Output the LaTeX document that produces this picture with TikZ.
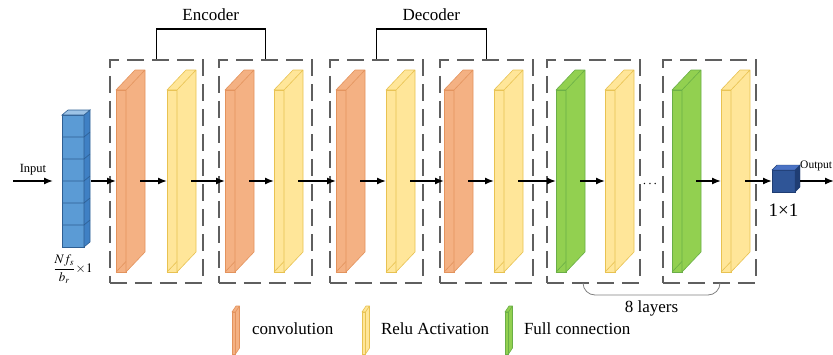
\documentclass[tikz,border=0pt]{standalone}
\usepackage{mathptmx}
\usepackage{fontspec}
\setmainfont{Liberation Serif}
\usepackage{tikz}
\usetikzlibrary{calc, positioning, arrows.meta}
\tikzset{>={Latex[length=9pt,width=7pt]}}

\definecolor{convfill}{HTML}{F4B183}
\definecolor{convedge}{HTML}{E3935D}
\definecolor{relufill}{HTML}{FFE699}
\definecolor{reluedge}{HTML}{E8C251}
\definecolor{fcfill}{HTML}{92D050}
\definecolor{fcedge}{HTML}{6AAE47}
\definecolor{infill}{HTML}{5B9BD5}
\definecolor{inright}{HTML}{3F80C4}
\definecolor{intop}{HTML}{9DC3E6}
\definecolor{inedge}{HTML}{2E5F93}
\definecolor{outfill}{HTML}{2F5597}
\definecolor{outright}{HTML}{1F3D73}
\definecolor{outtop}{HTML}{4A72C4}
\definecolor{boxgray}{HTML}{5F5F5F}

\tikzset{
  stage/.style={draw=boxgray, line width=1.6pt, dash pattern=on 17pt off 8pt,
    minimum width=93pt, minimum height=223pt, inner sep=0pt, anchor=north west},
  slabface/.style={minimum width=10pt, minimum height=182pt, inner sep=0pt,
    outer sep=0pt, anchor=west, line width=0.6pt},
  keyface/.style={minimum width=3.5pt, minimum height=42pt, inner sep=0pt,
    outer sep=0pt, anchor=west, line width=0.6pt},
  flow/.style={->, line width=1.4pt},
  bracket/.style={line width=1.3pt},
  lab/.style={font=\fontsize{17}{20}\selectfont},
  small/.style={font=\fontsize{12.5}{15}\selectfont},
}

\newcommand{\slab}[3]{%
  \node[slabface, fill=#3fill, draw=#3edge] (#1) at (#2,181) {};
  \filldraw[fill=#3fill, draw=#3edge, line width=0.6pt, line join=round]
    (#1.north east) -- ++(19,-20) -- ++(0,182) -- (#1.south east) -- cycle
    (#1.north west) -- ++(19,-20) -- ++(10,0) -- (#1.north east) -- cycle;
  \draw[#3edge, line width=0.6pt] (#1.south west) -- ++(10,-10.5);
}
\newcommand{\keyslab}[3]{%
  \node[keyface, fill=#3fill, draw=#3edge] (#1) at (#2,333) {};
  \filldraw[fill=#3fill, draw=#3edge, line width=0.6pt, line join=round]
    (#1.north east) -- ++(4,-6) -- ++(0,42) -- (#1.south east) -- cycle
    (#1.north west) -- ++(4,-6) -- ++(3.5,0) -- (#1.north east) -- cycle;
}

\begin{document}
\begin{tikzpicture}[x=1pt, y=-1pt]
\useasboundingbox (0,0) rectangle (833,354);

\node[draw=inedge, fill=infill, minimum width=22pt, minimum height=132pt,
  inner sep=0pt, outer sep=0pt, line width=0.6pt] (col) at (73,181) {};
\filldraw[fill=inright, draw=inedge, line width=0.6pt]
  (col.north east) -- ++(6,-5) -- ++(0,132) -- (col.south east) -- cycle;
\filldraw[fill=intop, draw=inedge, line width=0.6pt]
  (col.north west) -- ++(6,-5) -- ++(22,0) -- (col.north east) -- cycle;
\foreach \i in {1,...,5}
  \draw[inedge, line width=0.6pt] ($(col.north west)+(0,\i*22)$) -- ++(22,0) -- ++(6,-5);
\node[font=\fontsize{13}{16}\selectfont] (insize) at (73,269) {$\displaystyle\frac{Nf_s}{b_r}\!\times\! 1$};

\foreach \n/\x in {1/109,2/218,3/329,4/439,5/546,6/662}
  \node[stage] (b\n) at (\x,59) {};

\slab{c1}{116}{conv}
\slab{r1}{167}{relu}
\slab{c2}{225}{conv}
\slab{r2}{274}{relu}
\slab{c3}{336}{conv}
\slab{r3}{386}{relu}
\slab{c4}{444}{conv}
\slab{r4}{494}{relu}
\slab{f5}{556}{fc}
\slab{r5}{605}{relu}
\slab{f6}{672}{fc}
\slab{r6}{721}{relu}

\node[font=\fontsize{14}{16}\selectfont] (dots) at (650,184) {$\cdots$};

\node[draw=outright, fill=outfill, minimum width=23pt, minimum height=22pt,
  inner sep=0pt, outer sep=0pt] (out) at (783.5,181) {};
\filldraw[fill=outright, draw=outright]
  (out.north east) -- ++(5,-5) -- ++(0,22) -- (out.south east) -- cycle;
\filldraw[fill=outtop, draw=outright]
  (out.north west) -- ++(5,-5) -- ++(23,0) -- (out.north east) -- cycle;
\node[below=8pt of out, font=\fontsize{19}{22}\selectfont] (size) {1×1};

\coordinate (inp) at (13,181);
\draw[flow] (inp) -- node[above=2pt, small] {Input} ([xshift=-9pt]col.west);
\draw[flow] ([xshift=7pt]col.east) -- (c1.west);
\foreach \a/\b in {c1/r1, r1/c2, c2/r2, r2/c3, c3/r3, r3/c4, c4/r4, r4/f5, f5/r5, f6/r6, r6/out}
  \draw[flow] ([xshift=14pt]\a.east) -- (\b.west);
\coordinate (outend) at (834,181);
\draw[flow] ([xshift=5pt]out.east) -- (outend);
\node[font=\fontsize{11.5}{14}\selectfont, anchor=west, inner sep=1pt] (outlab) at (799,166) {Output};

\draw[bracket] (b1.north) -- ++(0,-30) -| node[pos=0.25, above=4pt, lab] {Encoder} (b2.north);
\draw[bracket] (b3.north) -- ++(0,-30) -| node[pos=0.25, above=4pt, lab] {Decoder} (b4.north);

\coordinate (lay1) at (583,283);
\coordinate (lay2) at (720,283);
\draw[gray, line width=0.8pt, rounded corners=12pt]
  (lay1) -- ++(0,12) -| node[pos=0.25, below=2pt, lab, text=black] {8 layers} (lay2);

\keyslab{kc}{232}{conv}
\node[lab, right=13pt of kc, yshift=4pt] (kct) {convolution};
\keyslab{kr}{362}{relu}
\node[lab, right=12pt of kr, yshift=4pt] (krt) {Relu Activation};
\keyslab{kf}{505}{fc}
\node[lab, right=12pt of kf, yshift=4pt] (kft) {Full connection};
\end{tikzpicture}
\end{document}
